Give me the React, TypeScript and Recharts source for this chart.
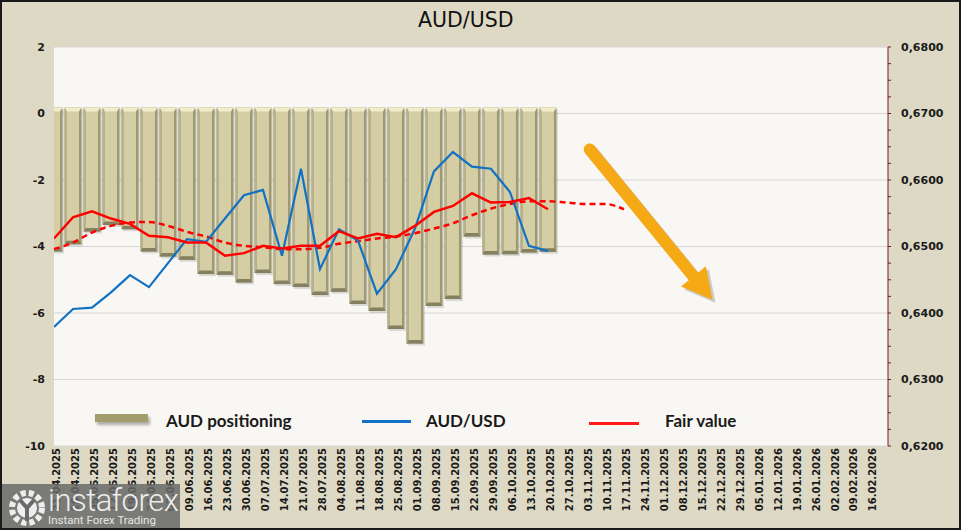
import React from 'react';
import { ComposedChart, Bar, Line, XAxis, YAxis, CartesianGrid, ReferenceLine } from 'recharts';

// weekly report dates (category axis)
const DATES = [
  '21.04.2025', '28.04.2025', '05.05.2025', '12.05.2025', '19.05.2025', '26.05.2025', '02.06.2025',
  '09.06.2025', '16.06.2025', '23.06.2025', '30.06.2025', '07.07.2025', '14.07.2025', '21.07.2025',
  '28.07.2025', '04.08.2025', '11.08.2025', '18.08.2025', '25.08.2025', '01.09.2025', '08.09.2025',
  '15.09.2025', '22.09.2025', '29.09.2025', '06.10.2025', '13.10.2025', '20.10.2025', '27.10.2025',
  '03.11.2025', '10.11.2025', '17.11.2025', '24.11.2025', '01.12.2025', '08.12.2025', '15.12.2025',
  '22.12.2025', '29.12.2025', '05.01.2026', '12.01.2026', '19.01.2026', '26.01.2026', '02.02.2026',
  '09.02.2026', '16.02.2026',
];

// AUD net positioning (left axis)
const POSITIONING = [
  -4.15, -3.93, -3.55, -3.35, -3.48, -4.15, -4.3, -4.4, -4.83, -4.85, -5.08, -4.8, -5.13, -5.22,
  -5.46, -5.36, -5.73, -5.94, -6.48, -6.92, -5.79, -5.58, -3.7, -4.24, -4.23, -4.18, -4.16,
];

// AUD/USD spot (right axis)
const AUDUSD = [
  0.6379, 0.6406, 0.6408, 0.6431, 0.6457, 0.6439, 0.6475, 0.6511, 0.6507, 0.6542, 0.6577, 0.6585,
  0.6486, 0.6617, 0.6466, 0.6526, 0.6509, 0.6429, 0.6466, 0.6527, 0.6613, 0.6642, 0.662, 0.6617,
  0.6582, 0.6501, 0.6493,
];

// fair value (right axis)
const FAIR = [
  0.6512, 0.6544, 0.6553, 0.6542, 0.6534, 0.6516, 0.6514, 0.6506, 0.6506, 0.6486, 0.649, 0.6501,
  0.6497, 0.6501, 0.6501, 0.6523, 0.6512, 0.6519, 0.6514, 0.6531, 0.6552, 0.6561, 0.658, 0.6566,
  0.6567, 0.6573, 0.6556,
];

// smoothed fair value trend, runs a few weeks ahead
const FAIR_TREND = [
  0.6496, 0.6506, 0.6521, 0.6531, 0.6536, 0.6537, 0.6531, 0.6522, 0.6515, 0.6506, 0.6501, 0.6499,
  0.6496, 0.6496, 0.6498, 0.6504, 0.6508, 0.6512, 0.6515, 0.652, 0.6527, 0.6535, 0.6547, 0.6557,
  0.6564, 0.6568, 0.6568, 0.6566, 0.6564, 0.6564, 0.6556,
];

const LEFT_TICKS = [-10, -8, -6, -4, -2, 0, 2];
const RIGHT_TICKS = [
  0.62, 0.6225, 0.625, 0.6275, 0.63, 0.6325, 0.635, 0.6375, 0.64, 0.6425, 0.645, 0.6475, 0.65,
  0.6525, 0.655, 0.6575, 0.66, 0.6625, 0.665, 0.6675, 0.67, 0.6725, 0.675, 0.6775, 0.68,
];

const data = DATES.map((d, i) => ({
  i,
  date: d,
  positioning: POSITIONING[i],
  audusd: AUDUSD[i],
  fair: FAIR[i],
  trend: FAIR_TREND[i],
}));

const TICK_FONT = '"DejaVu Sans", Verdana, sans-serif';

const BevelBar = (props: any) => {
  const { x, y, width, height } = props;
  if (!height || x == null) return null;
  const top = Math.min(y, y + height) - 6;
  const bottom = Math.max(y, y + height);
  const h = bottom - top;
  const w = width;
  return (
    <g>
      <rect x={x + 1.5} y={top + 2} width={w} height={h} fill="#000" opacity={0.12} />
      <rect x={x} y={top} width={w} height={h} fill="#9f9972" />
      <rect x={x + 2.5} y={top + 3} width={w - 5} height={h - 6} fill="#d5cea4" />
      <rect x={x} y={top + 3} width={2.5} height={h - 6} fill="#b8b28c" />
      <polygon
        points={`${x},${top} ${x + w},${top} ${x + w - 2.5},${top + 4} ${x + 2.5},${top + 4}`}
        fill="#f2ecc9"
      />
      <polygon
        points={`${x},${bottom} ${x + w},${bottom} ${x + w - 2.5},${bottom - 3.5} ${x + 2.5},${bottom - 3.5}`}
        fill="#858060"
      />
    </g>
  );
};

const DateTick = (props: any) => {
  const { x, y, payload } = props;
  const label = DATES[payload.value] ?? '';
  return (
    <text
      x={x + 2}
      y={y}
      transform={`rotate(-90 ${x + 2} ${y})`}
      textAnchor="end"
      dy="0.36em"
      fontFamily={TICK_FONT}
      fontWeight="bold"
      fontSize={10}
      fill="#1a1a1a"
    >
      {label}
    </text>
  );
};

const ArrowShape = (props: any) => {
  const { x1, y1, x2, y2 } = props;
  if (x1 == null) return null;
  const dx = x2 - x1;
  const dy = y2 - y1;
  const len = Math.sqrt(dx * dx + dy * dy);
  const ux = dx / len;
  const uy = dy / len;
  const bx = x2 - ux * 30;
  const by = y2 - uy * 30;
  const px = -uy * 16;
  const py = ux * 16;
  const body = (c: string) => (
    <>
      <line x1={x1} y1={y1} x2={bx} y2={by} stroke={c} strokeWidth={12} strokeLinecap="round" />
      <polygon points={`${x2},${y2} ${bx + px},${by + py} ${bx - px},${by - py}`} fill={c} />
    </>
  );
  return (
    <g>
      <g transform="translate(3 3)" opacity={0.18}>{body('#000')}</g>
      {body('#f5a914')}
    </g>
  );
};

const legendText: React.CSSProperties = {
  position: 'absolute',
  top: 411,
  fontFamily: 'Lato, "Open Sans", sans-serif',
  fontWeight: 700,
  fontSize: 17,
  lineHeight: '20px',
  color: '#1a1a1a',
  whiteSpace: 'nowrap',
};

export default function App() {
  return (
    <div style={{ position: 'absolute', left: 0, top: 0, width: 961, height: 530, background: '#ddd9c4', overflow: 'hidden' }}>
      <div
        style={{
          position: 'absolute',
          top: 8,
          left: 418,
          fontFamily: TICK_FONT,
          fontSize: 20.5,
          color: '#111',
          whiteSpace: 'nowrap',
        }}
      >
        AUD/USD
      </div>
      <ComposedChart width={961} height={530} data={data} margin={{ top: 47, right: 0, bottom: 0, left: 0 }}>
        <CartesianGrid
          yAxisId="pos"
          vertical={false}
          stroke="#d6d6d6"
          fill="#f8f7f3"
          fillOpacity={1}
        />
        <XAxis
          dataKey="i"
          type="number"
          domain={[0, 43.9]}
          allowDataOverflow
          ticks={DATES.map((_, i) => i)}
          interval={0}
          height={84}
          axisLine={false}
          tickLine={false}
          tickSize={0}
          tick={<DateTick />}
        />
        <YAxis
          yAxisId="pos"
          width={54}
          domain={[-10, 2]}
          ticks={LEFT_TICKS}
          interval={0}
          axisLine={false}
          tickLine={false}
          tickSize={0}
          tickMargin={9}
          tick={{ fontFamily: TICK_FONT, fontWeight: 'bold', fontSize: 11, fill: '#1a1a1a' }}
        />
        <YAxis
          yAxisId="px"
          orientation="right"
          width={73}
          domain={[0.62, 0.68]}
          ticks={RIGHT_TICKS}
          interval={0}
          axisLine={{ stroke: '#7a1c1c', strokeWidth: 1 }}
          tickLine={{ stroke: '#7a1c1c' }}
          tickSize={3}
          tickMargin={10}
          tickFormatter={(v: number) =>
            Math.abs(v * 100 - Math.round(v * 100)) < 1e-6 ? v.toFixed(4).replace('.', ',') : ''
          }
          tick={{ fontFamily: TICK_FONT, fontWeight: 'bold', fontSize: 11, fill: '#1a1a1a' }}
        />
        <Bar
          yAxisId="pos"
          dataKey="positioning"
          barSize={17}
          shape={<BevelBar />}
          isAnimationActive={false}
        />
        <Line
          yAxisId="px"
          dataKey="trend"
          type="monotone"
          stroke="#ff0000"
          strokeWidth={2.5}
          strokeDasharray="6 4"
          dot={false}
          activeDot={false}
          isAnimationActive={false}
        />
        <Line
          yAxisId="px"
          dataKey="audusd"
          type="linear"
          stroke="#1172c4"
          strokeWidth={2.2}
          dot={false}
          activeDot={false}
          isAnimationActive={false}
        />
        <Line
          yAxisId="px"
          dataKey="fair"
          type="linear"
          stroke="#ff0000"
          strokeWidth={2.5}
          dot={false}
          activeDot={false}
          isAnimationActive={false}
        />
        <ReferenceLine
          yAxisId="pos"
          segment={[{ x: 28.2, y: -1.08 }, { x: 34.66, y: -5.6 }]}
          shape={<ArrowShape />}
        />
      </ComposedChart>

      {/* legend */}
      <div style={{ position: 'absolute', left: 95, top: 414, width: 53, height: 8, background: '#a39c6b', boxShadow: '2px 3px 3px rgba(0,0,0,0.3)' }} />
      <div style={{ ...legendText, left: 166 }}>AUD positioning</div>
      <div style={{ position: 'absolute', left: 362, top: 420, width: 49, height: 2.5, background: '#1172c4' }} />
      <div style={{ ...legendText, left: 426 }}>AUD/USD</div>
      <div style={{ position: 'absolute', left: 589, top: 422, width: 50, height: 2.5, background: '#ff1a1a' }} />
      <div style={{ ...legendText, left: 665 }}>Fair value</div>

      {/* watermark */}
      <div style={{ position: 'absolute', left: 0, top: 484, width: 180, height: 46, background: 'rgba(105,105,105,0.85)' }}>
        <svg width={40} height={40} style={{ position: 'absolute', left: 7, top: 4 }}>
          <circle cx={20} cy={20} r={15} fill="none" stroke="#eee" strokeWidth={6} strokeDasharray="5 3" />
          <circle cx={20} cy={20} r={10} fill="#eee" />
          <path d="M13 12 L20 20 L27 12 M20 20 L20 33" stroke="#6a6a6a" strokeWidth={4} fill="none" />
        </svg>
        <div style={{ position: 'absolute', left: 48, top: -2, fontFamily: 'Roboto, sans-serif', fontWeight: 300, fontSize: 31, color: '#eeeeee', letterSpacing: -0.5 }}>
          instaforex
        </div>
        <div style={{ position: 'absolute', left: 48, top: 29, fontFamily: 'Roboto, sans-serif', fontSize: 11.5, color: '#e6e6e6' }}>
          Instant Forex Trading
        </div>
      </div>

      <div style={{ position: 'absolute', left: 0, top: 0, width: 961, height: 530, border: '2px solid #1a1a1a', boxSizing: 'border-box', pointerEvents: 'none' }} />
    </div>
  );
}
